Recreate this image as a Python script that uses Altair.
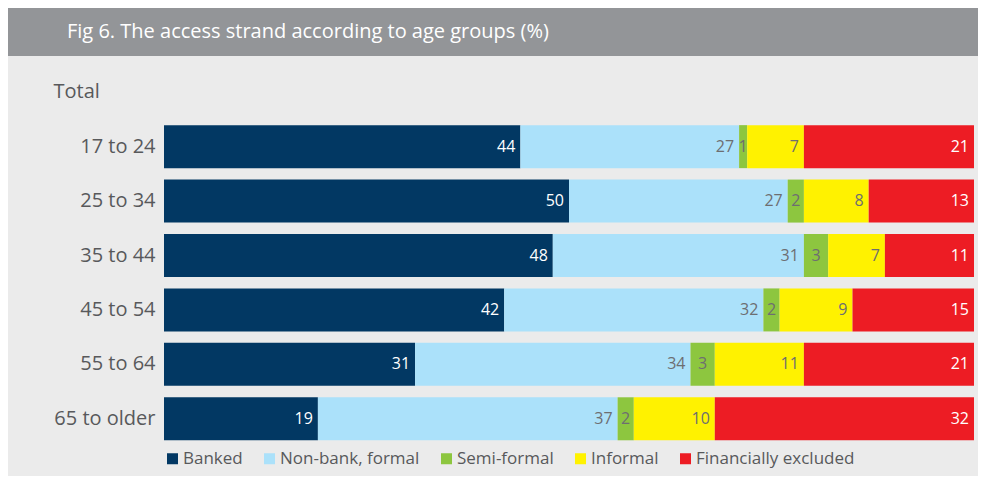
import altair as alt
import pandas as pd

TITLE = "Fig 6. The access strand according to age groups (%)"
age_groups = ["Total", "17 to 24", "25 to 34", "35 to 44", "45 to 54", "55 to 64", "65 to older"]
bar_groups = ["17 to 24", "25 to 34", "35 to 44", "45 to 54", "55 to 64", "65 to older"]
series = ["Banked", "Non-bank, formal", "Semi-formal", "Informal", "Financially excluded"]
banked = [44, 50, 48, 42, 31, 19]
non_bank = [27, 27, 31, 32, 34, 37]
semi_formal = [1, 2, 3, 2, 3, 2]
informal = [7, 8, 7, 9, 11, 10]
excluded = [21, 13, 11, 15, 21, 32]
colors = ["#023863", "#abe1fa", "#8dc63f", "#fff200", "#ed1c24"]

values_by_series = [banked, non_bank, semi_formal, informal, excluded]
rows = []
for si, (name, vals) in enumerate(zip(series, values_by_series)):
    for age, v in zip(bar_groups, vals):
        rows.append({"age": age, "series": name, "value": v, "order": si})
df = pd.DataFrame(rows)

FONT = "Open Sans"
LABEL_GRAY = "#58595b"
TEXT_GRAY = "#6d6e71"
W, H = 810, 381
LEFT, TOP = 156, 57

y_enc = alt.Y(
    "age:N",
    scale=alt.Scale(domain=age_groups, paddingInner=0.21, paddingOuter=0.105),
    axis=alt.Axis(
        title=None, domain=False, ticks=False, tickSize=0, grid=False,
        labelFont=FONT, labelFontSize=20, labelColor=LABEL_GRAY,
        labelAlign={"condition": {"test": "datum.value === 'Total'", "value": "left"}, "value": "right"},
        labelPadding={"condition": {"test": "datum.value === 'Total'", "value": 111}, "value": 9},
        labelOverlap=False,
    ),
)
x_scale = alt.Scale(domain=[0, 100], nice=False, zero=True)

base = alt.Chart(df).transform_stack(
    stack="value", groupby=["age"], as_=["x0", "x1"],
    sort=[alt.SortField("order", order="ascending")],
)

bars = base.mark_bar().encode(
    x=alt.X("x0:Q", scale=x_scale, axis=None),
    x2="x1:Q",
    y=y_enc,
    color=alt.Color(
        "series:N",
        scale=alt.Scale(domain=series, range=colors),
        legend=alt.Legend(
            title=None, orient="bottom", direction="horizontal",
            symbolType="square", symbolSize=121, symbolStrokeWidth=0, symbolOpacity=1,
            labelFont=FONT, labelFontSize=17, labelColor=LABEL_GRAY,
            labelOffset=2, columnPadding=18, offset=4, padding=0,
        ),
    ),
)

label_color = alt.condition(
    "datum.series === 'Banked' || datum.series === 'Financially excluded'",
    alt.value("#ffffff"), alt.value(TEXT_GRAY),
)

end_labels = base.transform_filter("datum.series !== 'Semi-formal'").mark_text(
    align="right", baseline="middle", dx=-5, font=FONT, fontSize=16,
).encode(
    x=alt.X("x1:Q", scale=x_scale, axis=None),
    y=y_enc,
    text=alt.Text("value:Q"),
    color=label_color,
)

mid_labels = base.transform_filter("datum.series === 'Semi-formal'").transform_calculate(
    xm="(datum.x0 + datum.x1) / 2"
).mark_text(
    align="center", baseline="middle", font=FONT, fontSize=16,
).encode(
    x=alt.X("xm:Q", scale=x_scale, axis=None),
    y=y_enc,
    text=alt.Text("value:Q"),
    color=alt.value(TEXT_GRAY),
)

# decorative header band with the figure title
title_df = pd.DataFrame({"t": [TITLE]})
band = alt.Chart(title_df).mark_rect(color="#939598", clip=False).encode(
    x=alt.value(-LEFT), x2=alt.value(970 - LEFT),
    y=alt.value(-TOP), y2=alt.value(48 - TOP),
)
title_text = alt.Chart(title_df).mark_text(
    align="left", baseline="middle", font=FONT, fontSize=20, color="#ffffff", clip=False,
).encode(
    text="t:N", x=alt.value(59 - LEFT), y=alt.value(24 - TOP),
)

chart = alt.layer(band, title_text, bars, end_labels, mid_labels).properties(
    width=W, height=H,
    padding={"left": 0, "top": 0, "right": 0, "bottom": 9},
).configure(background="#ebebeb", font=FONT).configure_view(strokeWidth=0)

chart.save("out.html", embed_options={"renderer": "svg", "actions": False})
